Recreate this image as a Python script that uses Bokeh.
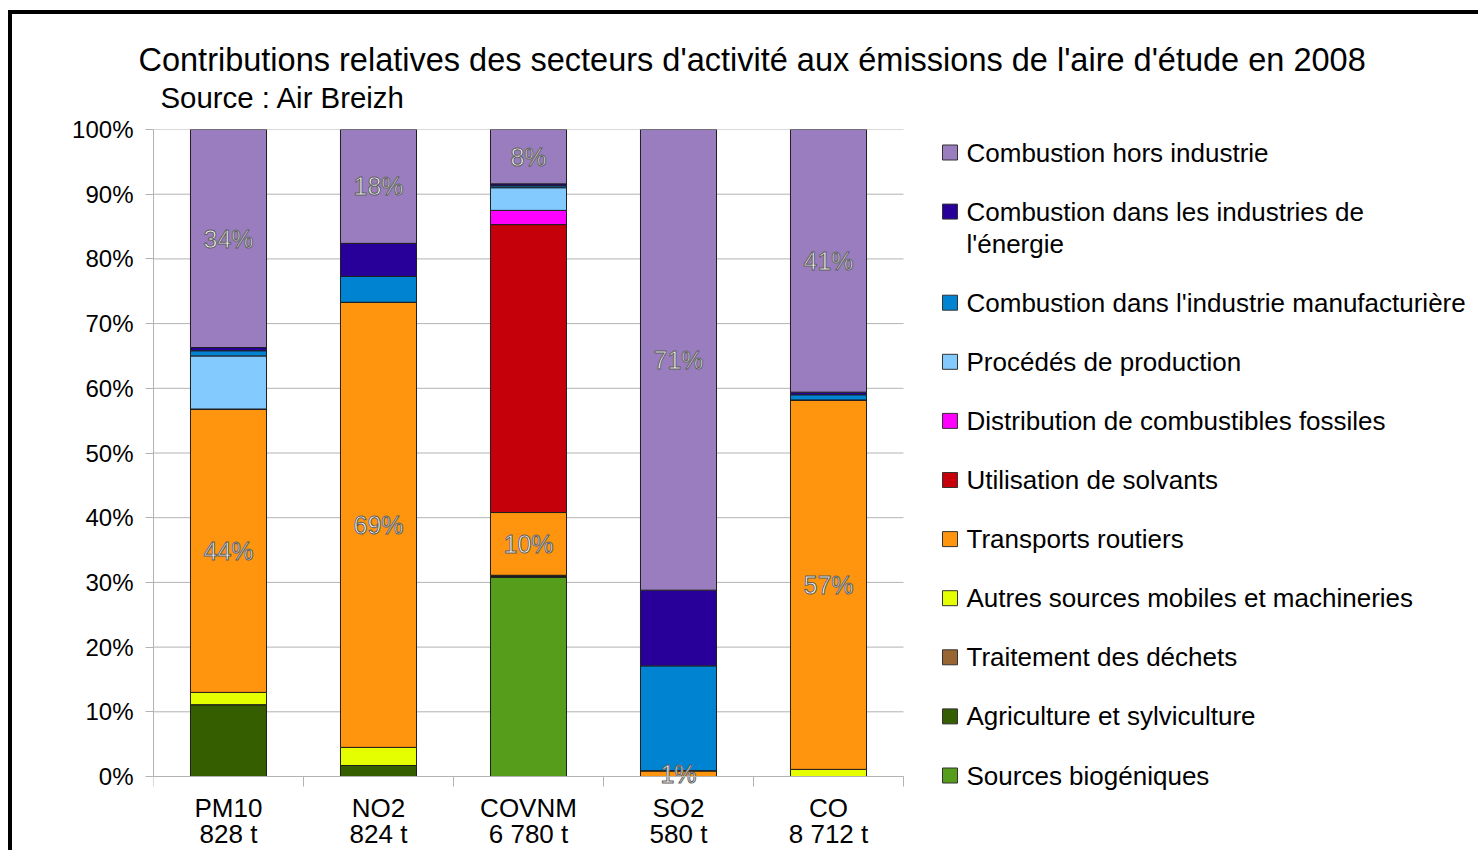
import numpy as np
from bokeh.plotting import figure
from bokeh.layouts import column, row
from bokeh.models import ColumnDataSource, FixedTicker, PrintfTickFormatter, Range1d
from bokeh.core.properties import value
from bokeh.embed import file_html
from bokeh.resources import INLINE

# ---------------- data ----------------
title_text = "Contributions relatives des secteurs d'activité aux émissions de l'aire d'étude en 2008"
subtitle_text = "Source : Air Breizh"

pollutants = ["PM10", "NO2", "COVNM", "SO2", "CO"]
tonnages = ["828 t", "824 t", "6 780 t", "580 t", "8 712 t"]

# sectors, stacked bottom -> top
sectors = [
    "Sources biogéniques",
    "Agriculture et sylviculture",
    "Traitement des déchets",
    "Autres sources mobiles et machineries",
    "Transports routiers",
    "Utilisation de solvants",
    "Distribution de combustibles fossiles",
    "Procédés de production",
    "Combustion dans l'industrie manufacturière",
    "Combustion dans les industries de l'énergie",
    "Combustion hors industrie",
]
legend_lines = {
    "Combustion dans les industries de l'énergie": ["Combustion dans les industries de", "l'énergie"],
}

biogenic      = [0.0, 0.0, 30.8, 0.0, 0.0]
agriculture   = [11.1, 1.7, 0.1, 0.0, 0.0]
waste         = [0.0, 0.0, 0.1, 0.0, 0.0]
other_mobile  = [1.9, 2.8, 0.1, 0.0, 1.1]
road          = [43.8, 68.8, 9.7, 0.9, 57.1]
solvents      = [0.0, 0.0, 44.5, 0.0, 0.0]
distribution  = [0.0, 0.0, 2.2, 0.0, 0.0]
processes     = [8.2, 0.0, 3.5, 0.0, 0.0]
manufacturing = [0.8, 4.0, 0.3, 16.2, 0.8]
energy        = [0.5, 5.1, 0.3, 11.7, 0.4]
residential   = [33.7, 17.6, 8.4, 71.2, 40.6]

series = [biogenic, agriculture, waste, other_mobile, road, solvents,
          distribution, processes, manufacturing, energy, residential]
colors = ["#579d1c", "#355e00", "#996633", "#e6ff00", "#ff950e", "#c5000b",
          "#ff00ff", "#83caff", "#0084d1", "#280099", "#997dbf"]
labelled = ["Transports routiers", "Combustion hors industrie"]

y_ticks = list(range(0, 101, 10))

# ---------------- layout constants (px) ----------------
FONT = "Liberation Sans"
GRAY = "#b3b3b3"
PAGE_X0, PAGE_Y0 = 12, 14          # page position of the drawing (margin + border)
TOTAL_W, TOTAL_H = 1466, 836
TITLE_H = 101
MAIN_H = TOTAL_H - TITLE_H
M_LEFT, M_TOP = 141, 14
PX_X = 150.0                       # px per category slot
PLOT_TOP_PAGE = PAGE_Y0 + TITLE_H + M_TOP      # page y of 100 %
ZERO_PAGE = 776                                 # page y of 0 %
PX_Y = (ZERO_PAGE - PLOT_TOP_PAGE) / 100.0
FRAME_LEFT_PAGE = PAGE_X0 + M_LEFT
FRAME_W = TOTAL_W - M_LEFT
FRAME_BOTTOM_PAGE = PAGE_Y0 + TOTAL_H
x_end = FRAME_W / PX_X
y_start = -(FRAME_BOTTOM_PAGE - ZERO_PAGE) / PX_Y

def px2x(px):
    return (px - FRAME_LEFT_PAGE) / PX_X

def py2y(py):
    return (ZERO_PAGE - py) / PX_Y

# ---------------- title strip ----------------
tf = figure(width=TOTAL_W, height=TITLE_H, x_range=Range1d(0, TOTAL_W),
            y_range=Range1d(TITLE_H, 0), output_backend="svg", toolbar_location=None,
            x_axis_location=None, y_axis_location=None, min_border=0)
tf.grid.visible = False
tf.outline_line_color = None
tf.text(x=[138 - PAGE_X0], y=[59 - PAGE_Y0], text=[title_text], text_align="left",
        text_baseline="middle", text_font=value(FONT), text_font_size="32.5px",
        text_color="black")
tf.text(x=[160 - PAGE_X0], y=[97 - PAGE_Y0], text=[subtitle_text], text_align="left",
        text_baseline="middle", text_font=value(FONT), text_font_size="29.4px",
        text_color="black")

# ---------------- main chart ----------------
ncat = len(pollutants)
xs = [i + 0.5 for i in range(ncat)]

p = figure(width=TOTAL_W, height=MAIN_H, x_range=Range1d(0, x_end),
           y_range=Range1d(y_start, 100), output_backend="svg", toolbar_location=None,
           min_border_left=M_LEFT, min_border_right=0, min_border_top=M_TOP,
           min_border_bottom=0)
p.outline_line_color = None
p.xgrid.visible = False
p.ygrid.visible = False

# horizontal grid lines over the bar area only
p.segment(x0=[0] * len(y_ticks), x1=[ncat] * len(y_ticks), y0=y_ticks, y1=y_ticks,
          line_color=GRAY, line_width=1)

data = {"x": xs}
for name, vals in zip(sectors, series):
    data[name] = vals
src = ColumnDataSource(data)
p.vbar_stack(sectors, x="x", width=0.507, color=colors, line_color="#1e1e1e",
             line_width=1, source=src)

# data labels (centred in the segments of two series)
cum = np.zeros(ncat)
lx, ly, lt = [], [], []
for name, vals in zip(sectors, series):
    v = np.array(vals)
    if name in labelled:
        for i in range(ncat):
            lx.append(xs[i]); ly.append(cum[i] + v[i] / 2); lt.append(f"{int(round(v[i]))}%")
    cum = cum + v
p.text(x=lx, y=ly, text=lt, text_align="center", text_baseline="middle",
       text_font=value(FONT), text_font_size="25px", text_color="white",
       text_outline_color="#5e5e5e")

# x axis, fixed at 0 %
xa = p.xaxis[0]
xa.fixed_location = 0
xa.bounds = (0, ncat)
xa.ticker = FixedTicker(ticks=xs, minor_ticks=list(range(ncat + 1)))
xa.major_label_overrides = {x: f"{c}\n{t}" for x, c, t in zip(xs, pollutants, tonnages)}
xa.major_tick_out = 0
xa.major_tick_in = 0
xa.minor_tick_out = 10
xa.minor_tick_in = 0
xa.minor_tick_line_color = GRAY
xa.axis_line_color = GRAY
xa.major_label_standoff = 6
xa.major_label_text_font = FONT
xa.major_label_text_font_size = "26px"
xa.major_label_text_line_height = 0.88
xa.major_label_text_color = "black"

ya = p.yaxis[0]
ya.bounds = (0, 100)
ya.ticker = FixedTicker(ticks=y_ticks, minor_ticks=[])
ya.formatter = PrintfTickFormatter(format="%d%%")
ya.major_tick_out = 8
ya.major_tick_in = 0
ya.major_tick_line_color = GRAY
ya.axis_line_color = GRAY
ya.major_label_standoff = 12
ya.major_label_text_font = FONT
ya.major_label_text_font_size = "24px"
ya.major_label_text_color = "black"

# legend (drawn in the free area right of the bars)
row_py = 152.0        # page y of first legend row
pitch = 59.1
line_gap = 32.0
lgx, lgy, lgc, ltx, lty, ltt = [], [], [], [], [], []
for name, col in zip(reversed(sectors), reversed(colors)):
    lines = legend_lines.get(name, [name])
    lgx.append(px2x(949.5)); lgy.append(py2y(row_py)); lgc.append(col)
    for k, line in enumerate(lines):
        ltx.append(px2x(966)); lty.append(py2y(row_py + line_gap * k)); ltt.append(line)
    row_py += pitch + line_gap * (len(lines) - 1)
p.scatter(x=lgx, y=lgy, marker="square", size=15, fill_color=lgc,
          line_color="#333333", line_width=1)
p.text(x=ltx, y=lty, text=ltt, text_align="left", text_baseline="middle",
       text_font=value(FONT), text_font_size="26px", text_color="black")

layout = column(tf, row(p, spacing=0), spacing=0)
layout.styles = {"margin-left": "8px", "margin-top": "10px",
                 "border-top": "4px solid black", "border-left": "4px solid black"}

open("out.html", "w").write(file_html(layout, INLINE))
